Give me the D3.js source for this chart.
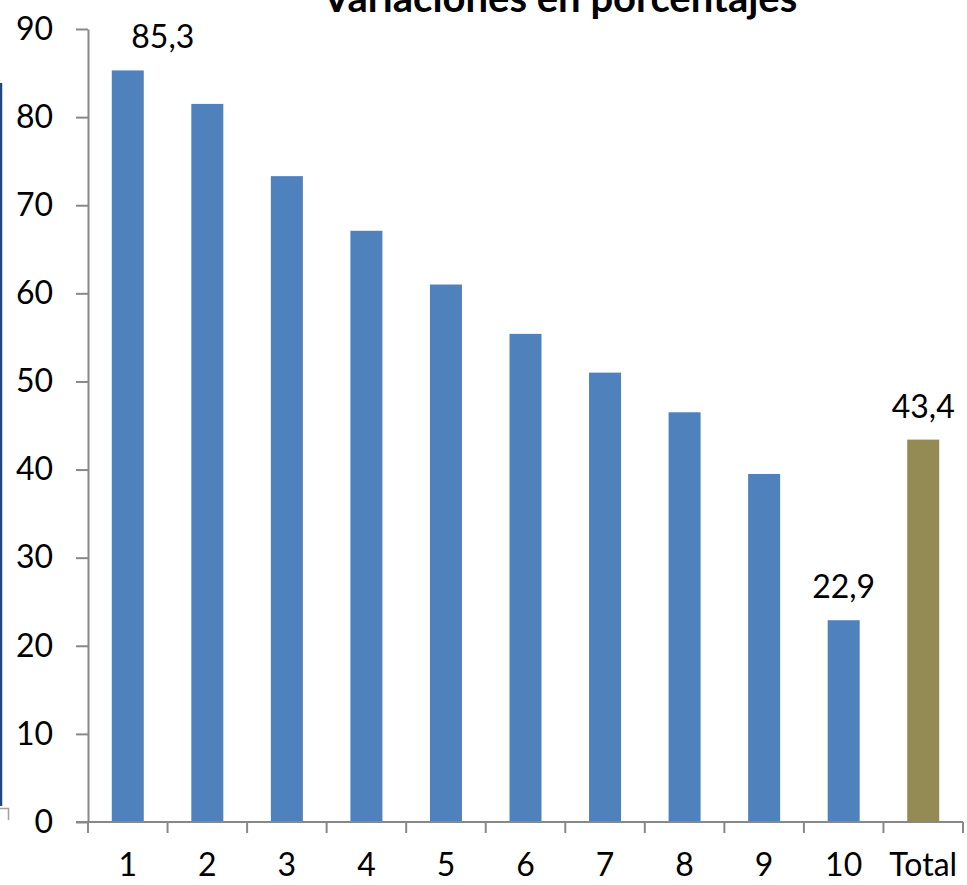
<!DOCTYPE html>
<html><head><meta charset="utf-8">
<script src="https://cdn.jsdelivr.net/npm/d3@7"></script>
<style>html,body{margin:0;padding:0;background:#fff;overflow:hidden}</style>
</head><body>
<svg id="c" width="967" height="885"></svg>
<script>
const categories = ["1","2","3","4","5","6","7","8","9","10","Total"];
const values = [85.3, 81.5, 73.3, 67.1, 61.0, 55.4, 51.0, 46.5, 39.5, 22.9, 43.4];
const labelled = {"1":"85,3","10":"22,9","Total":"43,4"};
const yTicks = [0,10,20,30,40,50,60,70,80,90];
const title = "Variaciones en porcentajes";

const svg = d3.select("#c");
const font = "Lato, 'Liberation Sans', sans-serif";
const xb = d3.scaleBand().domain(categories).range([88, 963]);
const y = d3.scaleLinear().domain([0, 90]).range([822, 29]);

// decorative left frame remnant
svg.append("line").attr("x1",1).attr("x2",1).attr("y1",83).attr("y2",806).attr("stroke","#1F497D").attr("stroke-width",2.5);
svg.append("path").attr("d","M0,808.5H8.5V820").attr("fill","none").attr("stroke","#A0A0A0").attr("stroke-width",1.5);

// title (cut off at the top edge, as in the reference)
svg.append("text").attr("x",560).attr("y",12).attr("text-anchor","middle")
  .attr("font-family",font).attr("font-weight","bold").attr("font-size",40).text(title);

// bars
svg.selectAll("rect.bar").data(categories).join("rect").attr("class","bar")
  .attr("x", d => xb(d) + xb.bandwidth()/2 - 16)
  .attr("width", 32)
  .attr("y", (d,i) => y(values[i]))
  .attr("height", (d,i) => y(0) - y(values[i]))
  .attr("fill", d => d === "Total" ? "#948A54" : "#4F81BD");

// y axis
const yAxis = svg.append("g").attr("transform","translate(88,0)")
  .call(d3.axisLeft(y).tickValues(yTicks).tickSize(12).tickPadding(23).tickSizeOuter(0));
yAxis.select(".domain").attr("stroke","#888").attr("stroke-width",2);
yAxis.selectAll(".tick line").attr("stroke","#888").attr("stroke-width",2);
yAxis.selectAll("text").attr("font-family",font).attr("font-size",32).attr("fill","#000");

// x axis
const xAxis = svg.append("g").attr("transform","translate(0,822)")
  .call(d3.axisBottom(xb).tickSize(0).tickPadding(31).tickSizeOuter(0));
xAxis.select(".domain").attr("d","M76,0H963").attr("stroke","#888").attr("stroke-width",2);
xAxis.selectAll("text").attr("font-family",font).attr("font-size",32).attr("fill","#000");
// category boundary ticks
const bounds = categories.map(d => xb(d)).concat([xb(categories[categories.length-1]) + xb.bandwidth()]);
svg.selectAll("line.xt").data(bounds).join("line").attr("class","xt")
  .attr("x1", d => d).attr("x2", d => d).attr("y1", 822).attr("y2", 833)
  .attr("stroke","#888").attr("stroke-width",2);

// data labels
const labelOffset = {"1": 35, "10": 0, "Total": 0};
svg.selectAll("text.lbl").data(categories.filter(d => labelled[d])).join("text").attr("class","lbl")
  .attr("x", d => xb(d) + xb.bandwidth()/2 + labelOffset[d])
  .attr("y", d => Math.max(y(values[categories.indexOf(d)]) - 22, 36))
  .attr("text-anchor","middle").attr("font-family",font).attr("font-size",32).text(d => labelled[d]);
</script>
</body></html>
